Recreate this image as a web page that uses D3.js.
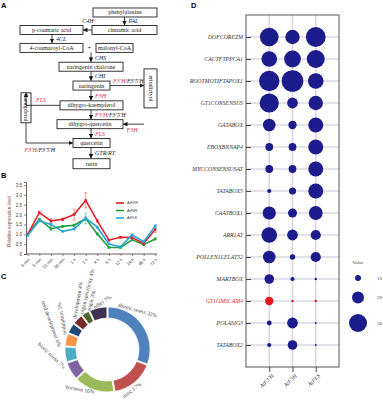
<!DOCTYPE html>
<html>
<head>
<meta charset="utf-8">
<script src="https://cdn.jsdelivr.net/npm/d3@7"></script>
<style>
  body { margin: 0; background: #fff; }
  svg { display: block; }
</style>
</head>
<body>
<svg id="chart" width="383" height="400"></svg>
<script>
// ---------- data ----------
// B: time course
const timePoints = ["0 min", "5 min", "15 min", "30 min", "1 h", "2 h", "4 h", "8 h", "12 h", "24 h", "48 h", "72 h"];
const exprF3pH = [1.0, 2.1, 1.68, 1.76, 2.0, 2.72, 1.68, 0.7, 0.85, 0.83, 0.53, 1.25];
const errF3pH  = [0.05, 0.07, 0.1, 0.06, 0.27, 0.38, 0.06, 0.05, 0.04, 0.05, 0.05, 0.15];
const exprF3H  = [1.0, 1.76, 1.28, 1.4, 1.46, 1.8, 1.02, 0.33, 0.33, 0.72, 0.47, 0.76];
const errF3H   = [0.05, 0.05, 0.1, 0.05, 0.06, 0.27, 0.05, 0.04, 0.04, 0.05, 0.04, 0.05];
const exprFLS  = [0.95, 1.68, 1.5, 1.15, 1.27, 1.81, 1.36, 0.51, 0.37, 0.97, 0.62, 1.42];
const errFLS   = [0.05, 0.05, 0.06, 0.05, 0.05, 0.1, 0.05, 0.04, 0.04, 0.05, 0.05, 0.08];
const yTicksB  = [0, 0.5, 1.0, 1.5, 2.0, 2.5, 3.0, 3.5];

// C: donut
const categories = ["abiotic stress", "misc", "hormon", "biotic stress", "seed development",
                    "nodulation", "development", "organ specificity", "sugar", "other"];
const shares = [32, 17, 16, 7, 6, 5, 4, 4, 3, 7];

// D: bubble matrix
const genes = ["AtF3'H", "AtF3H", "AtFLS"];
const motifs = ["DOFCOREZM", "CACTFTPPCA1", "ROOTMOTIFTAPOX1", "GT1CONSENSUS", "GATABOX",
                "EBOXBNNAP4", "MYCCONSENSUSAT", "TATABOX5", "CAATBOX1", "ARR1AT",
                "POLLEN1LELAT52", "MARTBOX", "GT1GMSCAM4", "POLASIG3", "TATABOX2"];
const countF3pH = [31, 26, 34, 32, 21, 13, 13, 7, 22, 26, 21, 16, 14, 8, 7];
const countF3H  = [24, 28, 36, 18, 14, 13, 13, 12, 15, 18, 9, 7, 4, 18, 16];
const countFLS  = [33, 30, 26, 24, 25, 25, 25, 25, 23, 17, 17, 4, 4, 3, 3];
const legendValues = [10, 20, 30];
const highlighted = "GT1GMSCAM4";

// A: pathway
const compounds = ["phenylalanine", "cinnamic acid", "p-coumaric acid", "4-coumaroyl-CoA", "malonyl-CoA",
                   "naringenin chalcone", "naringenin", "dihygro-kaempferol", "dihygro-quercetin",
                   "quercetin", "rutin", "eriodictyol", "kaempferol"];

// ---------- setup ----------
const svg = d3.select("#chart");
const serif = "'Liberation Serif', 'DejaVu Serif', serif";
const sans = "'Liberation Sans', Arial, sans-serif";
const red = "#d9304d";

svg.append("defs").append("marker")
    .attr("id", "arrow")
    .attr("viewBox", "0 0 10 10")
    .attr("refX", 10).attr("refY", 5)
    .attr("markerWidth", 4.5).attr("markerHeight", 4.5)
    .attr("markerUnits", "userSpaceOnUse")
    .attr("orient", "auto")
  .append("path").attr("d", "M0,0L10,5L0,10z").attr("fill", "#111");

// panel letters
[["A", 1, 8], ["B", 1, 178], ["C", 1, 279], ["D", 191, 8]].forEach(([t, x, y]) => {
    svg.append("text").attr("x", x).attr("y", y).text(t)
        .attr("font-family", sans).attr("font-weight", "700").attr("font-size", 7.5);
});

// ---------- A: pathway diagram ----------
const gA = svg.append("g");
const rowY = d3.scaleLinear().domain([1, 7]).range([30, 143]);
const boxLayout = {
    "phenylalanine":       {x: 125,   row: 0.07, w: 64, h: 9},
    "cinnamic acid":       {x: 124.5, row: 1,    w: 65, h: 9},
    "p-coumaric acid":     {x: 51.5,  row: 1,    w: 63, h: 9},
    "4-coumaroyl-CoA":     {x: 51.5,  row: 1.95, w: 63, h: 9},
    "malonyl-CoA":         {x: 114.5, row: 1.95, w: 37, h: 9},
    "naringenin chalcone": {x: 91,    row: 2.95, w: 64, h: 9},
    "naringenin":          {x: 91.5,  row: 3.95, w: 37, h: 9},
    "dihygro-kaempferol":  {x: 91.5,  row: 5,    w: 63, h: 9},
    "dihygro-quercetin":   {x: 90,    row: 6,    w: 66, h: 9},
    "quercetin":           {x: 91.5,  row: 7,    w: 37, h: 9},
    "rutin":               {x: 91.5,  row: 8.1,  w: 37, h: 10},
    "eriodictyol":         {x: 150.5, row: 4.1,  w: 13, h: 39, vertical: true},
    "kaempferol":          {x: 26,    row: 5.13, w: 10, h: 30, vertical: true}
};
const box = n => {
    const b = boxLayout[n], cy = rowY(b.row);
    return {cx: b.x, cy, x0: b.x - b.w / 2, x1: b.x + b.w / 2, y0: cy - b.h / 2, y1: cy + b.h / 2, ...b};
};

const nodes = gA.selectAll("g.node").data(compounds.map(n => ({name: n, ...box(n)})))
    .join("g").attr("class", "node")
    .attr("transform", d => `translate(${d.cx},${d.cy})`);
nodes.append("rect")
    .attr("x", d => -d.w / 2).attr("y", d => -d.h / 2)
    .attr("width", d => d.w).attr("height", d => d.h)
    .attr("fill", "#fff").attr("stroke", "#222").attr("stroke-width", 0.9);
nodes.append("text")
    .attr("transform", d => d.vertical ? "rotate(90)" : null)
    .attr("text-anchor", "middle").attr("dy", "0.33em")
    .attr("font-family", serif).attr("font-size", 6).attr("fill", "#222")
    .text(d => d.name);

const enzymeLabel = (sel, parts) => {
    parts.forEach(([t, c]) => sel.append("tspan").attr("fill", c).text(t));
};
const F3pH = [["F3'H", red], ["/F3'5'H", "#222"]];

// straight downward steps
const steps = [
    {from: "phenylalanine", to: "cinnamic acid", x: 124.5, label: [["PAL", "#222"]]},
    {from: "p-coumaric acid", to: "4-coumaroyl-CoA", x: 52, label: [["4CL", "#222"]]},
    {from: "4-coumaroyl-CoA", to: "naringenin chalcone", x: 91, label: [["CHS", "#222"]]},
    {from: "naringenin chalcone", to: "naringenin", x: 91, label: [["CHI", "#222"]]},
    {from: "naringenin", to: "dihygro-kaempferol", x: 91, label: [["F3H", red]]},
    {from: "dihygro-kaempferol", to: "dihygro-quercetin", x: 91, label: F3pH},
    {from: "dihygro-quercetin", to: "quercetin", x: 91, label: [["FLS", red]]},
    {from: "quercetin", to: "rutin", x: 91, label: [["GTR/RT", "#222"]]}
];
steps.forEach(s => {
    const a = box(s.from), b = box(s.to);
    gA.append("line")
        .attr("x1", s.x).attr("x2", s.x).attr("y1", a.y1).attr("y2", b.y0 - 0.3)
        .attr("stroke", "#111").attr("stroke-width", 0.8).attr("marker-end", "url(#arrow)");
    const t = gA.append("text")
        .attr("x", s.x + 4).attr("y", (a.y1 + b.y0) / 2 + 2.2)
        .attr("font-family", serif).attr("font-style", "italic").attr("font-size", 6);
    enzymeLabel(t, s.label);
});

// bent / sideways connections
const cin = box("cinnamic acid"), pco = box("p-coumaric acid"), nar = box("naringenin"),
      eri = box("eriodictyol"), dhq = box("dihygro-quercetin"), dhk = box("dihygro-kaempferol"),
      kae = box("kaempferol"), que = box("quercetin"), coa = box("4-coumaroyl-CoA");
const links = [
    {pts: [[cin.x0, cin.cy], [pco.x1, pco.cy]], label: [["C4H", "#222"]], lx: 88, ly: 23, anchor: "middle"},
    {pts: [[nar.x1, nar.cy], [eri.x0, nar.cy]], label: F3pH, lx: 113, ly: 82.5, anchor: "start"},
    {pts: [[eri.x0, dhq.cy], [dhq.x1, dhq.cy]], label: [["F3H", red]], lx: 132, ly: 132, anchor: "middle"},
    {pts: [[dhk.x0, dhk.cy], [kae.cx, dhk.cy], [kae.cx, kae.y0]], label: [["FLS", red]], lx: 41, ly: 101.5, anchor: "middle"},
    {pts: [[kae.cx, kae.y1], [kae.cx, que.cy], [que.x0, que.cy]], label: F3pH, lx: 24.5, ly: 151.5, anchor: "start"}
];
links.forEach(l => {
    gA.append("path")
        .attr("d", d3.line()(l.pts))
        .attr("fill", "none").attr("stroke", "#111").attr("stroke-width", 0.8)
        .attr("marker-end", "url(#arrow)");
    const t = gA.append("text").attr("x", l.lx).attr("y", l.ly).attr("text-anchor", l.anchor)
        .attr("font-family", serif).attr("font-style", "italic").attr("font-size", 6);
    enzymeLabel(t, l.label);
});
gA.append("text").attr("x", (coa.x1 + box("malonyl-CoA").x0) / 2).attr("y", coa.cy + 2)
    .attr("text-anchor", "middle").attr("font-family", serif).attr("font-size", 6).text("+");

// ---------- B: expression line chart ----------
const gB = svg.append("g");
const xB = d3.scalePoint().domain(timePoints).range([26, 157]).padding(0.15);
const yB = d3.scaleLinear().domain([0, 3.65]).range([254, 182]);
const axisColor = "#4a3535";

gB.append("g").attr("transform", `translate(26,0)`)
    .call(d3.axisLeft(yB).tickValues(yTicksB).tickFormat(d => d === 0 ? "0" : d3.format(".1f")(d))
        .tickSize(2).tickPadding(2))
    .call(g => g.select(".domain").attr("stroke", axisColor).attr("stroke-width", 0.8))
    .call(g => g.selectAll(".tick line").attr("stroke", axisColor).attr("stroke-width", 0.6))
    .call(g => g.selectAll("text").attr("font-family", sans).attr("font-size", 4.5).attr("fill", axisColor));

gB.append("g").attr("transform", `translate(0,${yB(0)})`)
    .call(d3.axisBottom(xB).tickSize(2).tickSizeOuter(0))
    .call(g => g.select(".domain").attr("stroke", axisColor).attr("stroke-width", 0.8)
        .attr("d", "M26,0H157"))
    .call(g => g.selectAll(".tick line").attr("stroke", axisColor).attr("stroke-width", 0.6))
    .call(g => g.selectAll("text")
        .attr("x", 0).attr("y", 0).attr("dy", "0.3em")
        .attr("transform", "translate(1,5) rotate(-45)")
        .attr("text-anchor", "end")
        .attr("font-family", sans).attr("font-size", 4.3).attr("fill", axisColor));

gB.append("text")
    .attr("transform", `translate(11,${(yB(0) + yB(3.5)) / 2 + 2}) rotate(-90)`)
    .attr("text-anchor", "middle")
    .attr("font-family", sans).attr("font-size", 4.6).attr("fill", "#7a4040")
    .text("Relative expression level");

const seriesB = [
    {name: "AtF3'H", values: exprF3pH, err: errF3pH, color: "#e41f2b"},
    {name: "AtF3H",  values: exprF3H,  err: errF3H,  color: "#21a03f"},
    {name: "AtFLS",  values: exprFLS,  err: errFLS,  color: "#2aa5d8"}
];
const drawOrder = [seriesB[1], seriesB[0], seriesB[2]];
const lineB = d3.line().x((d, i) => xB(timePoints[i])).y(d => yB(d));

drawOrder.forEach(s => {
    const g = gB.append("g");
    // error bars
    const eb = g.selectAll("g.eb").data(s.values).join("g").attr("class", "eb");
    eb.append("line")
        .attr("x1", (d, i) => xB(timePoints[i])).attr("x2", (d, i) => xB(timePoints[i]))
        .attr("y1", (d, i) => yB(d - s.err[i])).attr("y2", (d, i) => yB(d + s.err[i]))
        .attr("stroke", s.color).attr("stroke-opacity", 0.75).attr("stroke-width", 0.6);
    [-1, 1].forEach(sign => {
        eb.append("line")
            .attr("x1", (d, i) => xB(timePoints[i]) - 1.5).attr("x2", (d, i) => xB(timePoints[i]) + 1.5)
            .attr("y1", (d, i) => yB(d + sign * s.err[i])).attr("y2", (d, i) => yB(d + sign * s.err[i]))
            .attr("stroke", s.color).attr("stroke-opacity", 0.75).attr("stroke-width", 0.6);
    });
    g.append("path").attr("d", lineB(s.values))
        .attr("fill", "none").attr("stroke", s.color).attr("stroke-width", 1.6);
    g.selectAll("rect").data(s.values).join("rect")
        .attr("x", (d, i) => xB(timePoints[i]) - 1.2).attr("y", d => yB(d) - 1.2)
        .attr("width", 2.4).attr("height", 2.4).attr("fill", s.color);
});

const legB = gB.append("g").attr("transform", "translate(116,203)");
seriesB.forEach((s, i) => {
    const row = legB.append("g").attr("transform", `translate(0,${i * 7.5})`);
    row.append("line").attr("x1", 0).attr("x2", 8).attr("stroke", s.color).attr("stroke-width", 1.6);
    row.append("text").attr("x", 11).attr("dy", "0.35em").text(s.name)
        .attr("font-family", sans).attr("font-style", "italic").attr("font-size", 3.6).attr("fill", "#333");
});

// ---------- C: donut ----------
const sliceColors = ["#4f81bd", "#c0504d", "#9bbb59", "#8064a2", "#4bacc6",
                     "#f79646", "#1f497d", "#772c2a", "#4f6228", "#3f3151"];
const cx = 107.5, cy = 349.5;
const gC = svg.append("g").attr("transform", `translate(${cx},${cy})`);
const pie = d3.pie().sort(null).padAngle(0.025)(shares);
const arcC = d3.arc().innerRadius(31.5).outerRadius(42.5);
gC.selectAll("path").data(pie).join("path")
    .attr("d", arcC).attr("fill", (d, i) => sliceColors[i])
    .attr("stroke", "#fff").attr("stroke-width", 0.6);

// label placement: polar anchor (deg clockwise from top, radius) and text rotation
const labelTheta = [13, 162, 228, 275, 307, 289, 313, 324, 334, 342];
const labelR     = [46, 50, 56, 69, 81, 45, 45, 44, 43, 44];
const labelRot   = [16, -37, 10, 43, 70, -100, -80, -76, -75, -33];
gC.selectAll("text").data(pie).join("text")
    .attr("transform", (d, i) => {
        const a = labelTheta[i] * Math.PI / 180;
        return `translate(${labelR[i] * Math.sin(a)},${-labelR[i] * Math.cos(a)}) rotate(${labelRot[i]})`;
    })
    .attr("dy", "0.3em")
    .attr("font-family", serif).attr("font-size", 5.6).attr("fill", "#444")
    .text((d, i) => `${categories[i]} ${shares[i]}%`);

// ---------- D: bubble matrix ----------
const frame = {x0: 246, x1: 339, y0: 15, y1: 367};
const xD = d3.scalePoint().domain(genes).range([frame.x0, frame.x1]).padding(1);
const yD = d3.scalePoint().domain(motifs).range([frame.y0, frame.y1]).padding(1);
const rD = d3.scaleLinear().domain([0, 30]).range([0, 9]);
const countsD = [countF3pH, countF3H, countFLS];
const navy = "#1c1c8c";
const gD = svg.append("g");

gD.append("g").selectAll("line").data(motifs).join("line")
    .attr("x1", frame.x0).attr("x2", frame.x1)
    .attr("y1", d => yD(d)).attr("y2", d => yD(d))
    .attr("stroke", "#d8d8e4").attr("stroke-width", 1.6);
gD.append("g").selectAll("line").data(genes).join("line")
    .attr("x1", d => xD(d)).attr("x2", d => xD(d))
    .attr("y1", frame.y0).attr("y2", frame.y1)
    .attr("stroke", "#d8d8e4").attr("stroke-width", 1.6);

gD.append("g").attr("transform", `translate(${frame.x0},0)`)
    .call(d3.axisLeft(yD).tickSize(-5).tickPadding(3))
    .call(g => g.select(".domain").remove())
    .call(g => g.selectAll(".tick line").attr("stroke", "#333").attr("stroke-width", 0.9))
    .call(g => g.selectAll("text")
        .attr("font-family", serif).attr("font-style", "italic").attr("font-size", 5.8)
        .attr("fill", d => d === highlighted ? "#e01a22" : "#333"));

gD.append("g").attr("transform", `translate(0,${frame.y1})`)
    .call(d3.axisBottom(xD).tickSize(5))
    .call(g => g.select(".domain").remove())
    .call(g => g.selectAll(".tick line").attr("stroke", "#333").attr("stroke-width", 0.9))
    .call(g => g.selectAll("text")
        .attr("x", 0).attr("y", 0).attr("dy", "0.3em")
        .attr("transform", "translate(3,8) rotate(-45)")
        .attr("text-anchor", "end")
        .attr("font-family", serif).attr("font-style", "italic").attr("font-size", 5.8).attr("fill", "#333"));

const cells = [];
genes.forEach((g, gi) => motifs.forEach((m, mi) => cells.push({gene: g, motif: m, value: countsD[gi][mi]})));
gD.append("g").selectAll("circle").data(cells).join("circle")
    .attr("cx", d => xD(d.gene)).attr("cy", d => yD(d.motif))
    .attr("r", d => rD(d.value))
    .attr("fill", d => d.motif === highlighted ? "#e8141c" : navy);

gD.append("rect")
    .attr("x", frame.x0).attr("y", frame.y0)
    .attr("width", frame.x1 - frame.x0).attr("height", frame.y1 - frame.y0)
    .attr("fill", "none").attr("stroke", "#555").attr("stroke-width", 1);

// size legend
const legD = gD.append("g").attr("transform", "translate(358,0)");
legD.append("text").attr("x", 0).attr("y", 264).attr("text-anchor", "middle")
    .attr("font-family", serif).attr("font-size", 5).attr("fill", "#444").text("Value");
let yy = 278 - rD(legendValues[0]);
legendValues.forEach(v => {
    const r = rD(v), c = yy + r;
    legD.append("circle").attr("cx", 0).attr("cy", c).attr("r", r).attr("fill", navy);
    legD.append("text").attr("x", 19).attr("y", c).attr("dy", "0.35em")
        .attr("font-family", serif).attr("font-size", 5).attr("fill", "#444").text(v);
    yy = c + r + 10.5;
});
</script>
</body>
</html>
